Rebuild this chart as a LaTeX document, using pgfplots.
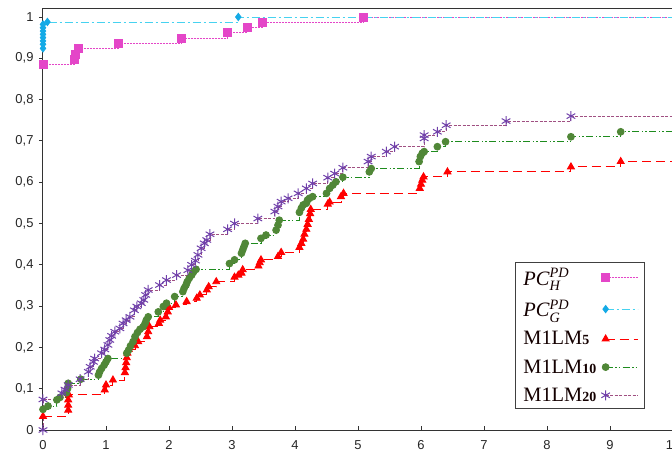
\documentclass[border=0pt]{standalone}
\usepackage{amsmath}
\usepackage{fontspec}
\setmainfont{Liberation Serif}
\newfontfamily\sansf{Liberation Sans}
\usepackage{pgfplots}
\pgfplotsset{compat=1.18}
\definecolor{cmag}{RGB}{228,70,200}
\definecolor{ccyanm}{RGB}{20,170,230}
\definecolor{ccyanl}{RGB}{70,210,240}
\definecolor{cred}{RGB}{255,0,0}
\definecolor{cgreenm}{RGB}{80,135,55}
\definecolor{cgreenl}{RGB}{30,140,30}
\definecolor{cpurm}{RGB}{112,64,170}
\definecolor{cpurl}{RGB}{160,80,130}
\pgfplotsset{myleg/.style={legend image code/.code={%
  \draw[mark repeat=2,mark phase=1,##1] plot coordinates {(0bp,0bp) (32bp,0bp)};}}}
\begin{document}
\begin{tikzpicture}
\begin{axis}[name=a, scale only axis, width=630bp, height=421.26bp,
  xmin=0, xmax=10, ymin=0, ymax=1.02, clip=false,
  xtick={0,1,2,3,4,5,6,7,8,9,10},
  ytick={0,0.1,0.2,0.3,0.4,0.5,0.6,0.7,0.8,0.9,1},
  xtick pos=left, ytick pos=left,
  tick align=outside, major tick length=4bp,
  xtick style={yshift=4bp},
  tick style={draw=black!80, line width=0.8bp},
  axis line style={draw=black!80, line width=1bp},
  /pgf/number format/use comma,
  /pgf/number format/assume math mode=true,
  ticklabel style={font=\sansf\fontsize{13}{13}\selectfont, text=black!85},
  xticklabel style={yshift=-3bp},
  yticklabel style={xshift=-2bp},
  legend plot pos=right,
  legend cell align=left,
  legend style={at={(axis cs:7.49,0.407)}, anchor=north west,
    draw=black!75, line width=1bp, fill=white,
    font=\fontsize{20.5}{23}\selectfont, text=black!80!red!40!black,
    inner xsep=6bp, inner ysep=4bp, row sep=9.2bp,
    /tikz/every odd column/.append style={column sep=3bp}},
  every axis plot/.append style={line width=0.9bp},
]
\addplot+[const plot, myleg, color=cmag, solid, dash pattern=on 2bp off 1bp,
  mark=square*, mark size=4bp, mark options={solid, fill=cmag, draw=cmag}]
coordinates {(0,0.885) (0.5,0.898) (0.52,0.91) (0.56,0.924) (1.19,0.936) (2.19,0.949)
 (2.92,0.962) (3.25,0.974) (3.49,0.988) (5.09,1.0) (11,1.0)};
\addlegendentry{\textit{PC}$_{\textit{H}}^{\textit{PD}}$}
\addplot+[const plot, myleg, color=ccyanl, dash pattern=on 8bp off 3bp on 2bp off 3bp,
  mark=diamond*, mark size=3.6bp, mark options={solid, fill=ccyanm, draw=ccyanm}]
coordinates {(0,0.924) (0,0.934) (0,0.942) (0,0.95) (0,0.958) (0,0.966) (0,0.974)
 (0,0.982) (0.07,0.988) (3.1,1.0) (11,1.0)};
\addlegendentry{\textit{PC}$_{\textit{G}}^{\textit{PD}}$}
\addplot+[const plot, myleg, color=cred, dash pattern=on 9bp off 5bp,
  mark=triangle*, mark size=4bp, mark options={solid, fill=cred, draw=cred}]
coordinates {(0,0.033) (0.4,0.048) (0.4,0.06) (0.4,0.073) (0.41,0.085)
 (0.98,0.097) (1.0,0.109) (1.11,0.121)
 (1.3,0.139) (1.31,0.151) (1.32,0.163) (1.33,0.175) (1.34,0.186) (1.36,0.195)
 (1.46,0.204) (1.51,0.214) (1.65,0.226) (1.67,0.238) (1.69,0.25) (1.84,0.258)
 (1.86,0.266) (1.95,0.274) (1.98,0.286) (2.0,0.297) (2.11,0.303) (2.28,0.311)
 (2.44,0.319) (2.49,0.327) (2.6,0.339) (2.63,0.347) (2.75,0.359) (3.04,0.37)
 (3.1,0.375) (3.15,0.38) (3.17,0.388) (3.42,0.397) (3.44,0.405) (3.46,0.412)
 (3.73,0.42) (3.78,0.43) (4.07,0.442) (4.1,0.452) (4.13,0.462) (4.15,0.474)
 (4.18,0.486) (4.2,0.498) (4.22,0.51) (4.24,0.524) (4.25,0.534) (4.52,0.547)
 (4.55,0.552) (4.73,0.565) (4.77,0.573) (5.98,0.585) (6.0,0.595) (6.02,0.605)
 (6.04,0.613) (6.42,0.625) (8.38,0.637) (9.17,0.65) (11,0.65)};
\addlegendentry{M1LM{\fontsize{14}{14}\selectfont\bfseries 5}}
\addplot+[const plot, myleg, color=cgreenl,
  dash pattern=on 7bp off 2.5bp on 1.5bp off 2bp on 1.5bp off 2.5bp,
  mark=*, mark size=3.4bp, mark options={solid, fill=cgreenm, draw=cgreenm}]
coordinates {(0,0.05) (0.08,0.058) (0.22,0.073) (0.27,0.079) (0.37,0.09) (0.39,0.1)
 (0.4,0.113) (0.6,0.123) (0.88,0.133) (0.9,0.141) (0.93,0.149) (0.97,0.157)
 (1.0,0.165) (1.03,0.173) (1.33,0.186) (1.36,0.194) (1.39,0.204) (1.43,0.214)
 (1.46,0.226) (1.5,0.236) (1.54,0.244) (1.59,0.25) (1.62,0.258) (1.64,0.266)
 (1.67,0.274) (1.83,0.286) (1.91,0.299) (1.96,0.307) (2.09,0.323) (2.22,0.335)
 (2.24,0.343) (2.27,0.351) (2.29,0.359) (2.32,0.367) (2.36,0.375) (2.39,0.383)
 (2.43,0.389) (2.96,0.403) (3.04,0.412) (3.15,0.428) (3.17,0.436) (3.19,0.444)
 (3.21,0.452) (3.46,0.464) (3.54,0.472) (3.7,0.484) (3.73,0.496) (3.75,0.508)
 (4.07,0.527) (4.1,0.537) (4.13,0.545) (4.18,0.549) (4.2,0.557) (4.23,0.561)
 (4.28,0.565) (4.5,0.573) (4.55,0.585) (4.6,0.593) (4.65,0.601) (4.76,0.612)
 (5.18,0.625) (5.21,0.633) (5.97,0.65) (5.99,0.662) (6.02,0.67) (6.05,0.674)
 (6.26,0.686) (6.39,0.698) (8.38,0.71) (9.17,0.722) (11,0.722)};
\addlegendentry{M1LM{\fontsize{14}{14}\selectfont\bfseries 10}}
\addplot+[const plot, myleg, color=cpurl, dash pattern=on 3bp off 1.5bp,
  mark=asterisk, mark size=5bp, mark options={solid, draw=cpurm, line width=1bp}]
coordinates {(0,0) (0,0.074) (0.3,0.089) (0.35,0.098) (0.4,0.109) (0.59,0.123)
 (0.72,0.141) (0.75,0.153) (0.8,0.165) (0.82,0.173) (0.93,0.186) (0.98,0.195)
 (1.03,0.206) (1.06,0.218) (1.09,0.228) (1.14,0.238) (1.22,0.246) (1.27,0.258)
 (1.32,0.266) (1.38,0.274) (1.45,0.29) (1.49,0.299) (1.56,0.307) (1.6,0.315)
 (1.63,0.327) (1.67,0.339) (1.85,0.351) (1.96,0.363) (2.12,0.375) (2.3,0.387)
 (2.36,0.4) (2.42,0.41) (2.46,0.424) (2.51,0.44) (2.56,0.452) (2.6,0.46)
 (2.65,0.474) (2.93,0.486) (3.04,0.5) (3.41,0.512) (3.68,0.529) (3.73,0.541)
 (3.78,0.553) (3.89,0.561) (4.05,0.573) (4.18,0.585) (4.28,0.597) (4.52,0.611)
 (4.63,0.621) (4.76,0.635) (5.16,0.65) (5.21,0.662) (5.45,0.674) (5.58,0.686)
 (6.05,0.706) (6.05,0.714) (6.26,0.722) (6.4,0.738) (7.35,0.748) (8.38,0.76) (11,0.76)};
\addlegendentry{M1LM{\fontsize{14}{14}\selectfont\bfseries 20}}
\end{axis}
\pgfresetboundingbox
\path ([shift={(-43bp,-25bp)}]a.south west) rectangle ([shift={(629bp,430bp)}]a.south west);
\end{tikzpicture}
\end{document}
